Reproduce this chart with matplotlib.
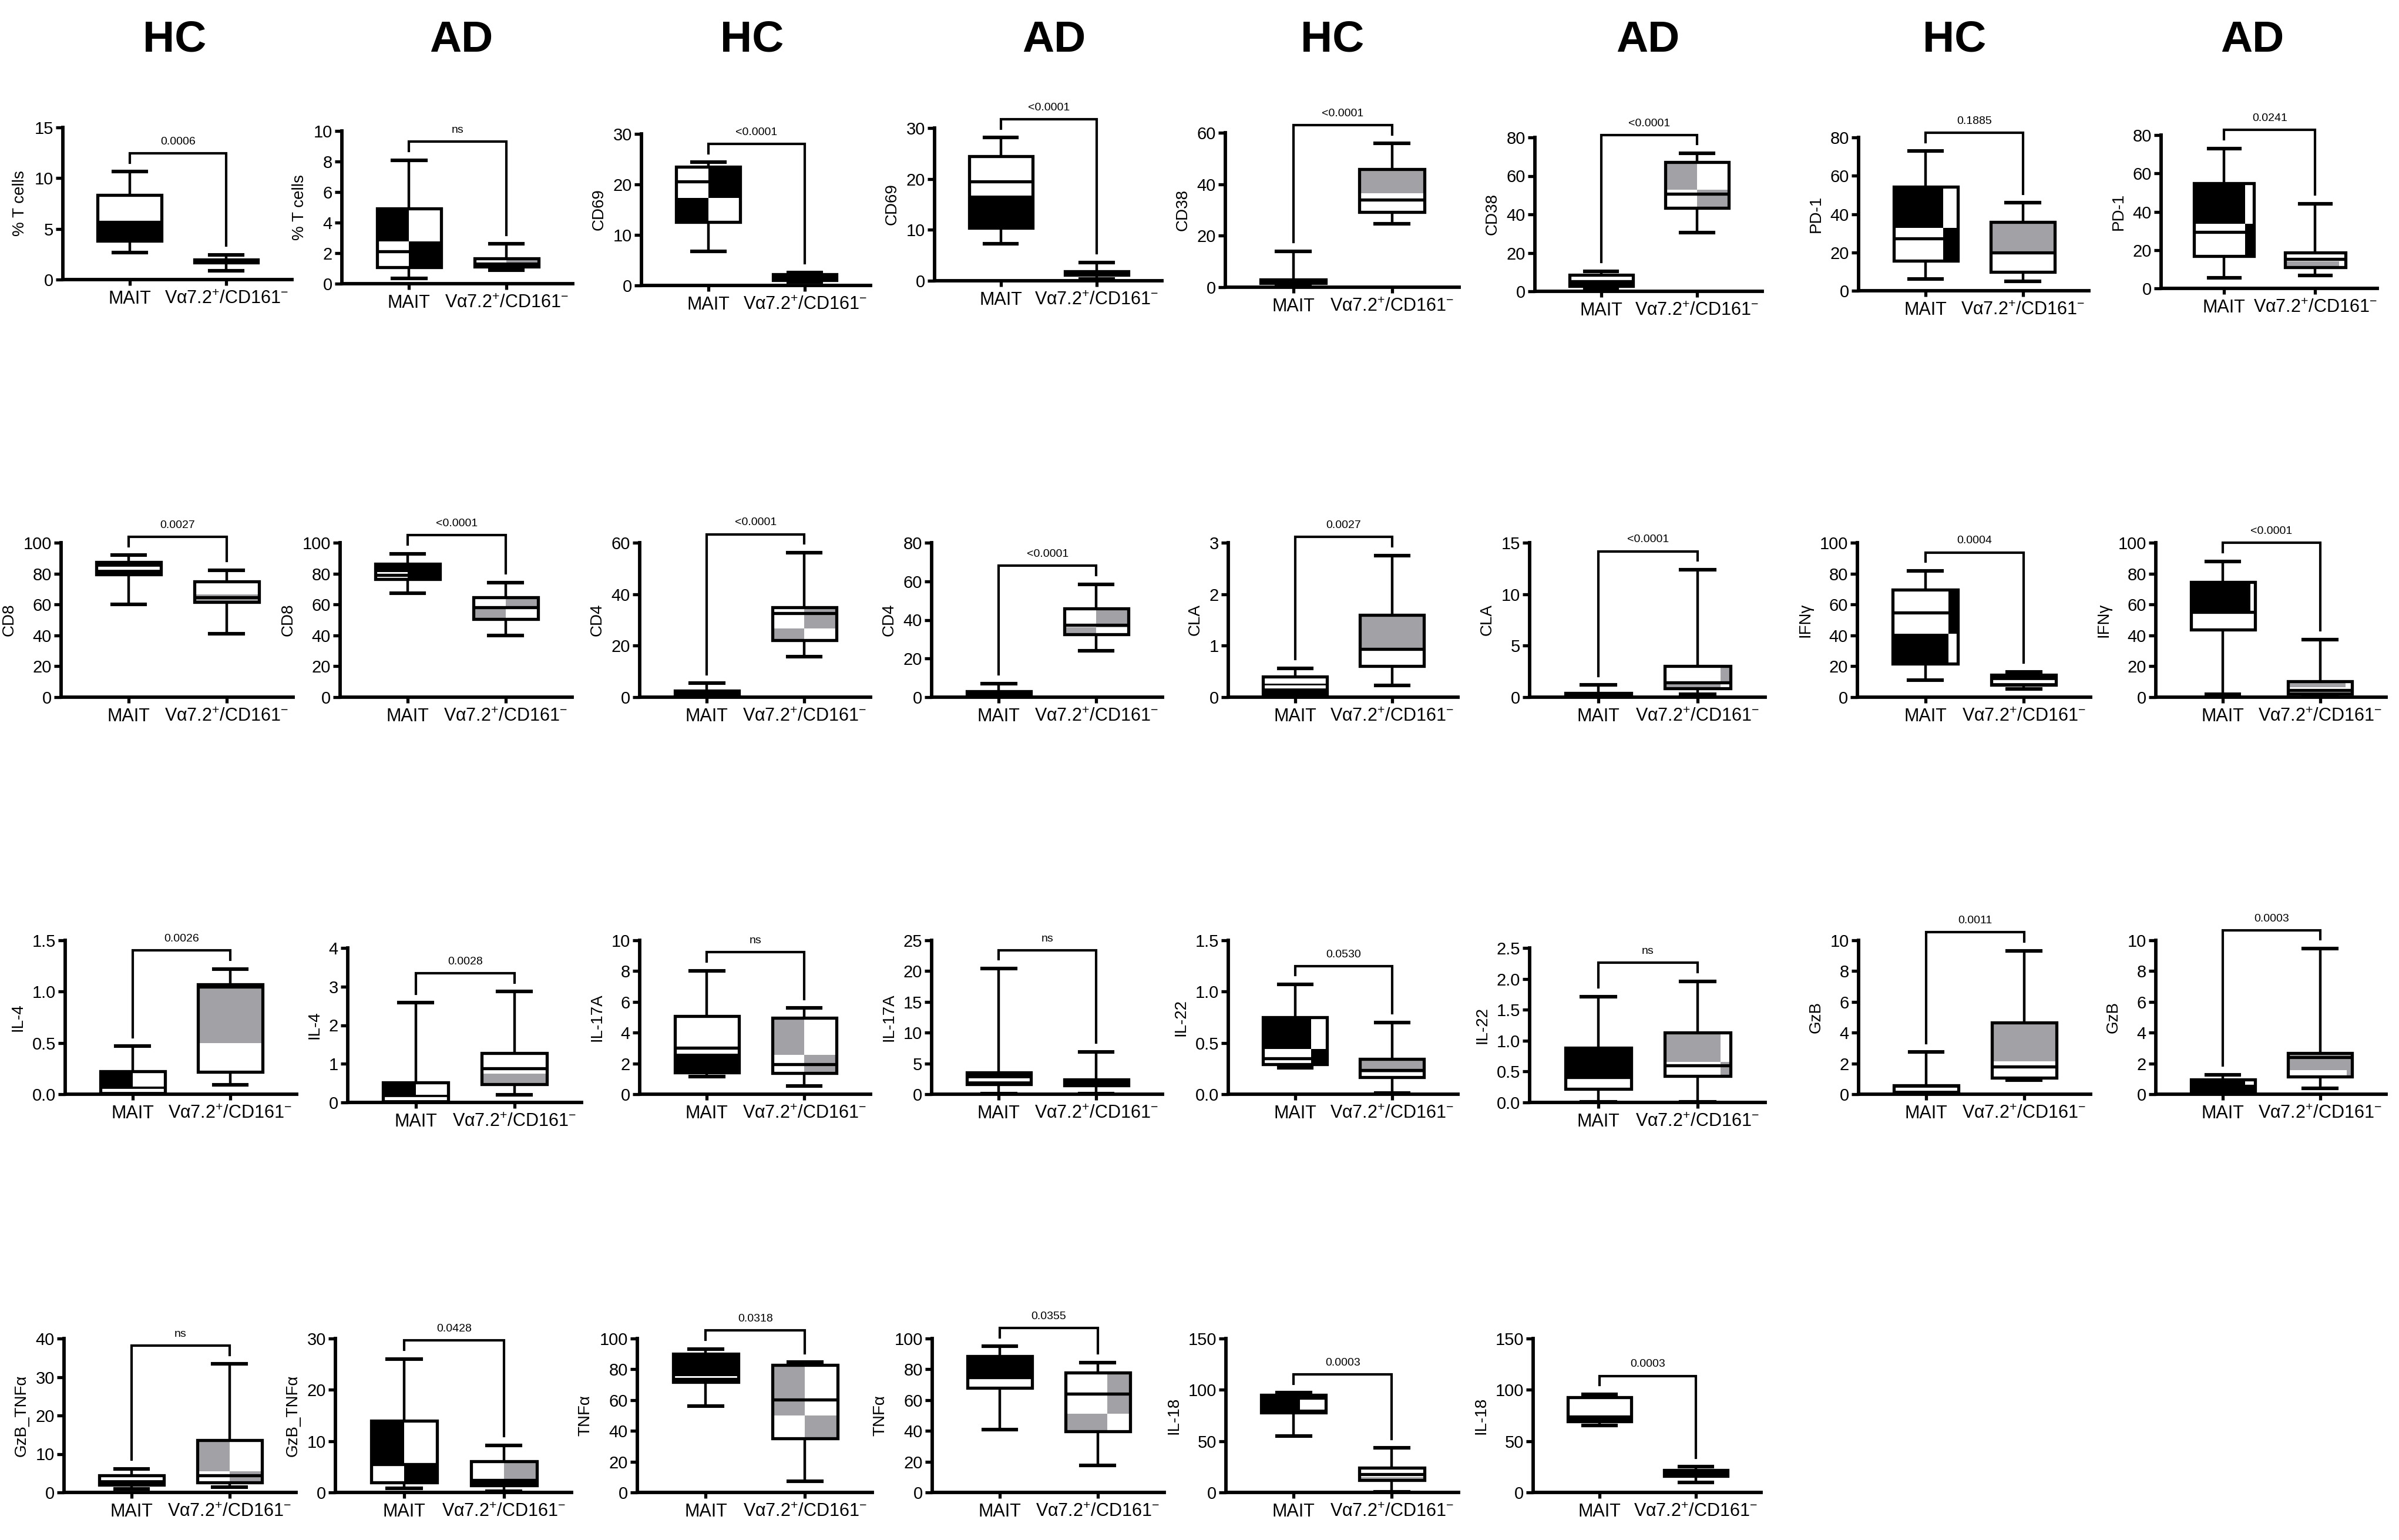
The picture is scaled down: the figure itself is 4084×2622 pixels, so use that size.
import matplotlib
matplotlib.use('Agg')
import matplotlib.pyplot as plt
from matplotlib.patches import Rectangle

plt.rcParams['font.family'] = ['Liberation Sans', 'DejaVu Sans']
plt.rcParams['mathtext.fontset'] = 'custom'
plt.rcParams['mathtext.rm'] = 'Liberation Sans'
plt.rcParams['mathtext.it'] = 'Liberation Sans:italic'
plt.rcParams['mathtext.bf'] = 'Liberation Sans:bold'

# ---------------- data ----------------
groups = ['MAIT', 'Vα7.2$^{+}$/CD161$^{-}$']
headers = ['HC', 'AD', 'HC', 'AD', 'HC', 'AD', 'HC', 'AD']

ylabels = ['% T cells', '% T cells', 'CD69', 'CD69', 'CD38', 'CD38', 'PD-1', 'PD-1',
           'CD8', 'CD8', 'CD4', 'CD4', 'CLA', 'CLA', 'IFNγ', 'IFNγ',
           'IL-4', 'IL-4', 'IL-17A', 'IL-17A', 'IL-22', 'IL-22', 'GzB', 'GzB',
           'GzB_TNFα', 'GzB_TNFα', 'TNFα', 'TNFα', 'IL-18', 'IL-18']
ymax = [15, 10, 30, 30, 60, 80, 80, 80,
        100, 100, 60, 80, 3, 15, 100, 100,
        1.5, 4, 10, 25, 1.5, 2.5, 10, 10,
        40, 30, 100, 100, 150, 150]
ystep = [5, 2, 10, 10, 20, 20, 20, 20,
         20, 20, 20, 20, 1, 5, 20, 20,
         0.5, 1, 2, 5, 0.5, 0.5, 2, 2,
         10, 10, 20, 20, 50, 50]
pvalues = ['0.0006', 'ns', '<0.0001', '<0.0001', '<0.0001', '<0.0001', '0.1885', '0.0241',
           '0.0027', '<0.0001', '<0.0001', '<0.0001', '0.0027', '<0.0001', '0.0004', '<0.0001',
           '0.0026', '0.0028', 'ns', 'ns', '0.0530', 'ns', '0.0011', '0.0003',
           'ns', '0.0428', '0.0318', '0.0355', '0.0003', '0.0003']

# MAIT box statistics
mait_lo = [2.65, 0.33, 6.7, 7.3, 1.1, 1.5, 6.2, 5.5,
           60.0, 67.4, 0.0, 0.0, 0.01, 0.0, 11.2, 1.8,
           0.0, 0.0, 1.15, 0.1, 0.256, 0.013, 0.04, 0.06,
           0.92, 0.77, 56.0, 40.8, 54.8, 65.0]
mait_q1 = [3.8, 1.06, 12.6, 10.4, 1.5, 2.9, 15.7, 16.8,
           79.5, 76.6, 0.3, 0.4, 0.06, 0.04, 21.7, 43.7,
           0.006, 0.02, 1.42, 1.6, 0.29, 0.214, 0.1, 0.14,
           1.95, 1.92, 71.8, 68.1, 77.9, 69.2]
mait_med = [5.65, 2.13, 20.6, 19.5, 2.3, 5.3, 27.3, 29.4,
            83.6, 79.2, 1.1, 1.4, 0.2, 0.17, 54.6, 55.3,
            0.04, 0.11, 3.03, 2.4, 0.35, 0.406, 0.36, 0.55,
            3.6, 5.5, 73.7, 74.7, 92.3, 74.0]
mait_q3 = [8.35, 4.91, 23.5, 24.5, 2.9, 8.4, 54.2, 55.0,
           87.5, 86.2, 2.4, 3.0, 0.40, 0.42, 69.5, 74.6,
           0.221, 0.51, 5.06, 3.5, 0.75, 0.88, 0.58, 0.94,
           4.46, 13.96, 90.0, 88.5, 94.8, 92.7]
mait_hi = [10.65, 8.09, 24.4, 28.1, 14.0, 10.5, 72.8, 73.1,
           91.9, 92.8, 5.4, 7.1, 0.56, 1.17, 81.7, 87.9,
           0.467, 2.58, 8.03, 20.4, 1.07, 1.71, 2.73, 1.26,
           6.15, 26.0, 93.2, 94.9, 97.1, 95.6]

# Va7.2+/CD161- box statistics
va_lo = [0.87, 0.87, 0.7, 0.4, 24.7, 30.5, 4.9, 6.7,
         41.2, 39.8, 15.8, 24.1, 0.23, 0.27, 5.3, 1.4,
         0.092, 0.2, 0.55, 0.1, 0.01, 0.013, 0.9, 0.38,
         1.44, 0.2, 7.3, 17.7, 0.4, 10.0]
va_q1 = [1.7, 1.1, 1.1, 1.2, 29.3, 43.3, 9.7, 11.0,
         61.6, 50.6, 22.2, 32.4, 0.6, 0.85, 7.9, 2.4,
         0.217, 0.47, 1.38, 1.44, 0.165, 0.43, 1.06, 1.13,
         2.56, 1.35, 35.3, 39.7, 11.9, 16.0]
va_med = [1.9, 1.3, 1.7, 1.5, 33.9, 50.8, 19.8, 15.3,
          64.5, 58.3, 32.7, 37.5, 0.94, 1.42, 10.4, 4.6,
          1.05, 0.88, 1.96, 1.95, 0.237, 0.6, 1.8, 2.41,
          4.36, 2.4, 60.3, 64.2, 17.7, 19.0]
va_q3 = [1.98, 1.64, 2.2, 1.8, 45.9, 67.2, 35.8, 18.6,
         74.9, 64.5, 34.8, 45.9, 1.6, 3.0, 14.6, 10.4,
         1.07, 1.27, 4.95, 2.4, 0.346, 1.13, 4.65, 2.67,
         13.6, 6.08, 82.7, 77.7, 24.0, 22.0]
va_hi = [2.45, 2.6, 2.6, 3.6, 55.8, 71.7, 45.9, 44.1,
         82.2, 74.3, 56.1, 58.4, 2.75, 12.37, 16.5, 37.4,
         1.22, 2.87, 5.6, 6.9, 0.70, 1.96, 9.33, 9.46,
         33.4, 9.15, 84.6, 84.4, 43.3, 25.0]

# ---------------- box fill styling (quadrant shading: UL UR LL LR) ----------------
mait_split = [5.65, 2.76, 17.3, 16.7, 2.3, 5.3, 32.9, 33.7,
              83.6, 80.9, 1.1, 1.4, 0.26, 0.17, 40.9, 55.3,
              0.073, 0.2, 2.63, 2.4, 0.44, 0.406, 0.36, 0.5,
              3.6, 5.58, 75.6, 74.7, 80.8, 74.0]
mait_quads = ['wwkk', 'kwwk', 'wkkw', 'wwkk', 'kkkk', 'wwkk', 'kwwk', 'kwwk',
              'kkkk', 'kkwk', 'kkkk', 'kkkk', 'wwkk', 'kkkk', 'wkkw', 'kwww',
              'kwkk', 'kwkk', 'wwkk', 'kkkk', 'kwwk', 'kkww', 'kkkk', 'kwkk',
              'kkkk', 'kwwk', 'kkww', 'kkww', 'kwkk', 'wwkk']
mait_vsplit = [0.5, 0.5, 0.5, 0.5, 0.5, 0.5, 0.77, 0.85,
               0.5, 0.5, 0.5, 0.5, 0.5, 0.5, 0.86, 0.93,
               0.5, 0.5, 0.5, 0.5, 0.75, 0.5, 0.5, 0.85,
               0.5, 0.5, 0.5, 0.5, 0.6, 0.5]
mait_medc = ['k', 'k', 'k', 'k', 'k', 'k', 'k', 'k',
             'w', 'k', 'k', 'k', 'w', 'k', 'k', 'k',
             'w', 'w', 'k', 'w', 'k', 'k', 'w', 'k',
             'w', 'k', 'k', 'k', 'k', 'k']
va_split = [1.9, 1.38, 1.7, 1.5, 36.6, 52.8, 19.8, 14.0,
            66.4, 57.0, 26.6, 36.2, 0.955, 1.3, 10.4, 6.5,
            0.496, 0.74, 2.54, 1.95, 0.213, 0.652, 2.15, 1.55,
            5.5, 2.5, 50.0, 51.3, 15.0, 19.0]
va_quads = ['kkkk', 'wgkk', 'kkkk', 'kkkk', 'ggww', 'gwwg', 'ggww', 'wwgw',
            'wwgg', 'wggw', 'wggw', 'wggw', 'ggww', 'wggw', 'kkkk', 'gwww',
            'ggww', 'wwgg', 'gwwg', 'kkkk', 'ggww', 'gwwg', 'ggww', 'ggwg',
            'gwwg', 'wgkk', 'gwwg', 'wggw', 'wwgg', 'wwww']
va_vsplit = [0.5, 0.5, 0.5, 0.5, 0.5, 0.5, 0.5, 0.9,
             0.5, 0.5, 0.5, 0.5, 0.5, 0.85, 0.5, 0.9,
             0.5, 0.5, 0.5, 0.5, 0.5, 0.85, 0.5, 0.92,
             0.5, 0.5, 0.5, 0.65, 0.5, 0.5]
va_medc = ['k', 'k', 'k', 'k', 'k', 'k', 'k', 'k',
           'k', 'k', 'k', 'k', 'k', 'k', 'w', 'k',
           'k', 'k', 'k', 'k', 'k', 'k', 'k', 'k',
           'k', 'k', 'k', 'k', 'k', 'k']

# ---------------- layout (pixels in a 4084 x 2622 canvas) ----------------
W, H = 4084, 2622
panel_xl = [[107, 582, 1092, 1591, 2086, 2613, 3164, 3679],
            [104, 579, 1089, 1586, 2091, 2604, 3162, 3670],
            [111, 592, 1089, 1586, 2091, 2604, 3164, 3670],
            [109, 571, 1085, 1587, 2087, 2610]]
panel_xr = [[497, 975, 1482, 1978, 2484, 3000, 3556, 4047],
            [499, 974, 1482, 1979, 2482, 3005, 3559, 4062],
            [505, 990, 1482, 1979, 2482, 3005, 3559, 4062],
            [504, 973, 1485, 1982, 2483, 2998]]
panel_yt = [[217, 223, 228, 218, 226, 234, 234, 230],
            [924] * 8,
            [1601, 1614, 1601, 1601, 1601, 1614, 1601, 1601],
            [2279] * 6]
panel_y0 = [[476, 483, 486, 478, 489, 496, 495, 491],
            [1187] * 8,
            [1863, 1877, 1863, 1863, 1863, 1877, 1863, 1863],
            [2541] * 6]
header_x = [297, 785, 1280, 1794, 2268, 2805, 3327, 3834]

GREY = '#a2a2a6'
COL = {'w': 'white', 'k': 'black', 'g': GREY}
BOX_W = 0.66
CAP_W = 0.34
LW = 1.9
XLIM = (-0.69, 1.68)

fig = plt.figure(figsize=(W / 200, H / 200), dpi=200)

for hx, h in zip(header_x, headers):
    fig.text(hx / W, 1 - 68 / H, h, ha='center', va='center', fontsize=27, fontweight='bold')


def draw_box(ax, pos, lo, q1, med, q3, hi, split, quads, vs, medc):
    x0 = pos - BOX_W / 2
    wl = BOX_W * vs
    wr = BOX_W - wl
    split = min(max(split, q1), q3)
    parts = [(x0, split, wl, q3 - split, quads[0]),
             (x0 + wl, split, wr, q3 - split, quads[1]),
             (x0, q1, wl, split - q1, quads[2]),
             (x0 + wl, q1, wr, split - q1, quads[3])]
    for (x, y, ww, hh, c) in parts:
        if hh > 0 and ww > 0:
            ax.add_patch(Rectangle((x, y), ww, hh, facecolor=COL[c], edgecolor='none', zorder=2))
    stats = [dict(med=med, q1=q1, q3=q3, whislo=lo, whishi=hi)]
    ax.bxp(stats, positions=[pos], widths=BOX_W, capwidths=CAP_W, showfliers=False,
           patch_artist=True,
           boxprops=dict(facecolor='none', edgecolor='black', linewidth=LW, zorder=4),
           medianprops=dict(color=COL[medc], linewidth=LW, solid_capstyle='butt', zorder=3),
           whiskerprops=dict(color='black', linewidth=1.6, zorder=1),
           capprops=dict(color='black', linewidth=LW + 0.3, zorder=3))


k = 0
for r in range(4):
    for c in range(len(panel_xl[r])):
        xl, xr = panel_xl[r][c], panel_xr[r][c]
        yt, y0 = panel_yt[r][c], panel_y0[r][c]
        ax = fig.add_axes([xl / W, 1 - y0 / H, (xr - xl) / W, (y0 - yt) / H])
        ax.set_facecolor('none')
        ym = ymax[k]
        draw_box(ax, 0, mait_lo[k], mait_q1[k], mait_med[k], mait_q3[k], mait_hi[k],
                 mait_split[k], mait_quads[k], mait_vsplit[k], mait_medc[k])
        draw_box(ax, 1, va_lo[k], va_q1[k], va_med[k], va_q3[k], va_hi[k],
                 va_split[k], va_quads[k], va_vsplit[k], va_medc[k])
        ax.set_xlim(*XLIM)
        ax.set_ylim(0, ym)
        n = int(round(ym / ystep[k]))
        ticks = [i * ystep[k] for i in range(n + 1)]
        ax.set_yticks(ticks)
        if ystep[k] < 1:
            ax.set_yticklabels([f'{t:.1f}' for t in ticks])
        else:
            ax.set_yticklabels([f'{t:g}' for t in ticks])
        ax.set_xticks([0, 1])
        ax.set_xticklabels(groups)
        for s in ['top', 'right']:
            ax.spines[s].set_visible(False)
        for s in ['left', 'bottom']:
            ax.spines[s].set_linewidth(LW + 0.2)
        ax.tick_params(axis='y', length=4.3, width=LW, labelsize=10.5, pad=1.5)
        ax.tick_params(axis='x', length=3.6, width=LW, labelsize=11, pad=3)
        ax.set_ylabel(ylabels[k], fontsize=10, labelpad=4)
        # significance bracket
        legL = mait_hi[k] + 0.06 * ym
        legR = va_hi[k] + 0.06 * ym
        top = max(mait_hi[k], va_hi[k]) + 0.12 * ym
        ax.plot([0, 0, 1, 1], [legL, top, top, legR], color='black', lw=1.5,
                clip_on=False, solid_joinstyle='miter')
        ax.text(0.5, top + 0.075 * ym, pvalues[k], ha='center', va='center',
                fontsize=7, clip_on=False)
        k += 1

fig.savefig('out.png', dpi=200)
